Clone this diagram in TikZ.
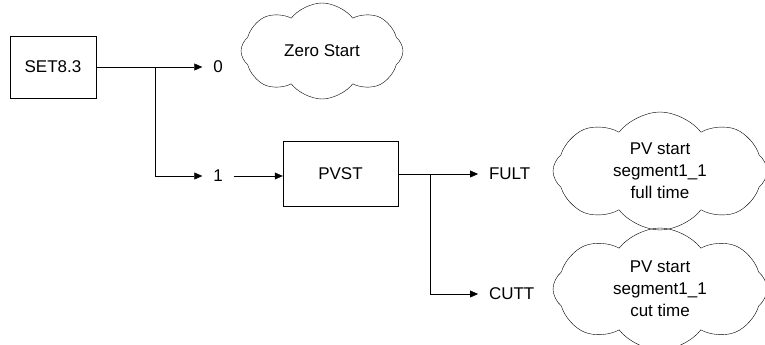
\documentclass[tikz,border=0pt]{standalone}
\usepackage{fontspec}
\setmainfont{Liberation Sans}
\usetikzlibrary{arrows.meta,positioning,shapes.symbols}

\begin{document}
\begin{tikzpicture}[x=1pt,y=-1pt,every node/.style={font=\fontsize{17}{22}\selectfont},
  >={Triangle[length=8pt,width=7pt]},
  blk/.style={draw,inner sep=0pt},
  lbl/.style={inner sep=0pt,outer sep=11pt},
  note/.style={draw,cloud,cloud puffs=8,cloud puff arc=105,aspect=2,align=center,inner sep=0pt}]
  \useasboundingbox (0,0) rectangle (765,345);
  \node[blk,minimum width=86pt,minimum height=62pt] (set) at (53,67) {SET8.3};
  \node[lbl] (zero) at (218,67) {0};
  \node[lbl] (one) at (218,176) {1};
  \node[blk,minimum width=115pt,minimum height=65pt] (pvst) at (340.5,173.5) {PVST};
  \node[lbl,anchor=west] (fult) at (478,174) {FULT};
  \node[lbl,anchor=west] (cutt) at (478,294) {CUTT};
  \node[note,minimum width=162pt,minimum height=96pt] (zero start) at (322,51) {Zero Start};
  \node[note,minimum width=214pt,minimum height=118pt] (full) at (660,171) {PV start\\segment1\_1\\full time};
  \node[note,minimum width=214pt,minimum height=122pt] (cut) at (660,289) {PV start\\segment1\_1\\cut time};
  \coordinate (j1) at (155,67);
  \coordinate (j2) at (430,174);
  % branches
  \draw[->] (set.east) -- (zero.west);
  \draw[->] (j1) |- (one.west);
  \draw[->] (one.east) -- (pvst.west |- one.east);
  \draw[->] (pvst.east |- j2) -- (fult.west);
  \draw[->] (j2) |- (cutt.west);
\end{tikzpicture}
\end{document}
